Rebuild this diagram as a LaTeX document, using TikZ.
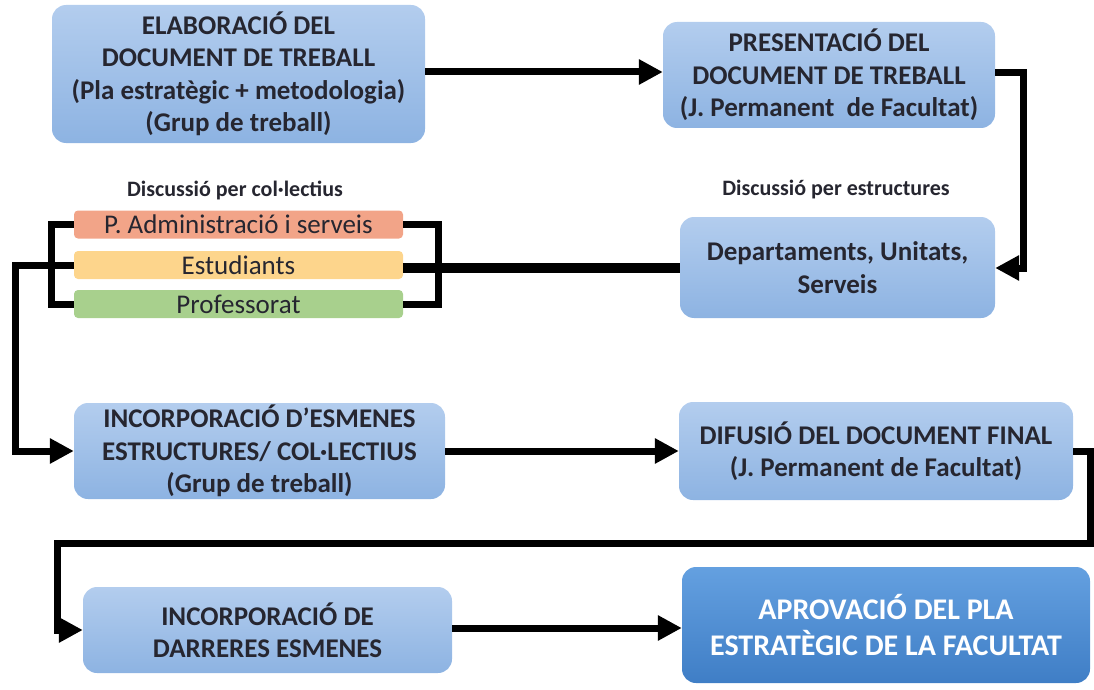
\documentclass[tikz,border=0pt]{standalone}
\usepackage{fontspec}
\setmainfont{Carlito}
\usetikzlibrary{arrows.meta}
\definecolor{txt}{HTML}{262630}
\definecolor{btop}{HTML}{B3CDEE}
\definecolor{bbot}{HTML}{8DB3E2}
\definecolor{atop}{HTML}{64A0E0}
\definecolor{abot}{HTML}{3F7EC6}
\definecolor{pas}{HTML}{F2A488}
\definecolor{est}{HTML}{FDD58C}
\definecolor{prof}{HTML}{A8D08D}
\tikzset{
  box/.style={rectangle, rounded corners=14pt, top color=btop, bottom color=bbot, draw=none,
    text=txt, align=center, inner sep=0pt, font=\bfseries\fontsize{27}{32.5}\selectfont},
  abox/.style={box, top color=atop, bottom color=abot, text=white,
    font=\bfseries\fontsize{30}{36}\selectfont},
  sbox/.style={rectangle, rounded corners=4pt, draw=none, text=txt, inner sep=0pt,
    minimum width=329pt, minimum height=28pt, font=\fontsize{27}{28}\selectfont},
  lbl/.style={text=txt, font=\bfseries\fontsize{22}{24}\selectfont, inner sep=0pt},
  conn/.style={line width=7pt, black},
  arr/.style={conn, -{Triangle[length=24pt,width=24pt]}},
  brk/.style={line width=7pt, black},
}
\begin{document}
\begin{tikzpicture}[x=1pt,y=-1pt]
\useasboundingbox (0,0) rectangle (1094,690);
\node[box, minimum width=373pt, minimum height=138pt] (b1) at (238.5,74)
  {ELABORACIÓ DEL\\DOCUMENT DE TREBALL\\(Pla estratègic + metodologia)\\(Grup de treball)};
\node[box, minimum width=332pt, minimum height=106pt] (b2) at (829,75)
  {PRESENTACIÓ DEL\\DOCUMENT DE TREBALL\\(J. Permanent\ \ de Facultat)};
\node[box, minimum width=315pt, minimum height=101pt] (b3) at (837.5,267.5)
  {Departaments, Unitats,\\Serveis};
\node[lbl] (l1) at (235,190) {Discussió per col·lectius};
\node[lbl] (l2) at (836,190) {Discussió per estructures};
\node[sbox, fill=pas] (pas) at (238.5,224.5) {P. Administració i serveis};
\node[sbox, fill=est] (est) at (238.5,265) {Estudiants};
\node[sbox, fill=prof] (prof) at (238.5,304) {Professorat};
\node[box, minimum width=371pt, minimum height=96pt] (b4) at (259.5,451)
  {INCORPORACIÓ D’ESMENES\\ESTRUCTURES/ COL·LECTIUS\\(Grup de treball)};
\node[box, minimum width=394pt, minimum height=98pt] (b5) at (876,451)
  {DIFUSIÓ DEL DOCUMENT FINAL\\(J. Permanent de Facultat)};
\node[box, minimum width=369pt, minimum height=86pt] (b6) at (267.5,630)
  {INCORPORACIÓ DE\\DARRERES ESMENES};
\node[abox, minimum width=408pt, minimum height=116pt] (b7) at (886,625)
  {APROVACIÓ DEL PLA\\ESTRATÈGIC DE LA FACULTAT};
% connectors
\draw[arr] (b1.east |- 0,72) -- (b2.west |- 0,72);
\draw[arr] (b2.east |- 0,73) -| (1023,150) |- (b3.east |- 0,268);
\draw[line width=10pt] (b3.west |- 0,268) -- (est.east |- 0,268);
\draw[brk] (pas.east) -| (438,264) |- (prof.east);
\draw[brk] (pas.west) -| (51,264) |- (prof.west);
\draw[arr] (est.west) -| (15,350) |- (b4.west);
\draw[arr] (b4.east) -- (b5.west);
\draw[arr] (b5.east) -| (1090,500) |- (57,543) |- (b6.west);
\draw[arr] (b6.east |- 0,628) -- (b7.west |- 0,628);
\end{tikzpicture}
\end{document}
